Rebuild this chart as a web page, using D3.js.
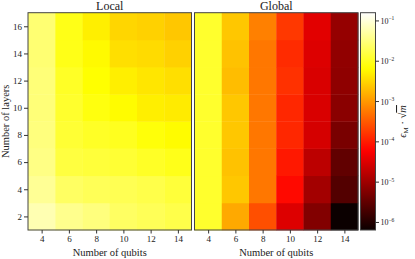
<!DOCTYPE html>
<html><head><meta charset="utf-8">
<script src="https://cdn.jsdelivr.net/npm/d3@7"></script>
<style>body{margin:0;background:#fff}svg{display:block}svg text{font-family:"Liberation Serif","Times New Roman",serif !important;fill:#222}</style>
</head><body><svg id="c" width="415" height="259"></svg>
<script>
const qubits = [4, 6, 8, 10, 12, 14];
const layers = [2, 4, 6, 8, 10, 12, 14, 16];
const xTicks = [4, 6, 8, 10, 12, 14];
const yTicks = [2, 4, 6, 8, 10, 12, 14, 16];
const cbTicks = [-1, -2, -3, -4, -5, -6];
const panelTitles = ["Local", "Global"];
// rows: layers 2..16, columns: qubits 4..14
const localValues = [
  [6.2e-2, 3.9e-2, 3.2e-2, 2.3e-2, 2.0e-2, 1.7e-2],
  [4.3e-2, 2.3e-2, 2.0e-2, 1.9e-2, 1.7e-2, 1.4e-2],
  [3.5e-2, 1.5e-2, 1.4e-2, 1.3e-2, 1.1e-2, 9.3e-3],
  [3.2e-2, 1.3e-2, 1.1e-2, 1.0e-2, 7.6e-3, 6.5e-3],
  [3.0e-2, 1.2e-2, 8.1e-3, 6.5e-3, 5.1e-3, 4.7e-3],
  [3.0e-2, 1.1e-2, 6.8e-3, 5.1e-3, 4.3e-3, 3.8e-3],
  [2.8e-2, 9.1e-3, 6.2e-3, 3.8e-3, 3.5e-3, 2.9e-3],
  [2.8e-2, 9.1e-3, 5.1e-3, 3.2e-3, 2.9e-3, 2.4e-3]
];
const globalValues = [
  [1.2e-2, 1.4e-3, 2.6e-4, 3.2e-5, 5.9e-6, 6.5e-7],
  [1.2e-2, 2.4e-3, 5.5e-4, 7.2e-5, 1.1e-5, 2.5e-6],
  [1.2e-2, 2.2e-3, 5.5e-4, 9.5e-5, 1.75e-5, 3.2e-6],
  [1.2e-2, 2.4e-3, 5.5e-4, 1.25e-4, 2.75e-5, 5.0e-6],
  [1.2e-2, 2.4e-3, 5.5e-4, 1.25e-4, 3.0e-5, 6.9e-6],
  [1.2e-2, 2.0e-3, 5.5e-4, 1.5e-4, 3.0e-5, 7.6e-6],
  [1.2e-2, 2.2e-3, 5.5e-4, 1.35e-4, 3.2e-5, 7.9e-6],
  [1.2e-2, 2.4e-3, 6.5e-4, 1.7e-4, 3.5e-5, 8.5e-6]
];
const vmin = 6.5e-7, vmax = 0.16;

// matplotlib "hot" colormap
function hot(t){
  t = Math.max(0, Math.min(1, t));
  const r = t < 0.365079 ? 0.0416 + (1-0.0416)*t/0.365079 : 1;
  const g = t < 0.365079 ? 0 : (t < 0.746032 ? (t-0.365079)/(0.746032-0.365079) : 1);
  const b = t < 0.746032 ? 0 : (t-0.746032)/(1-0.746032);
  return d3.rgb(r*255, g*255, b*255).toString();
}
const color = d3.scaleSequentialLog(hot).domain([vmin, vmax]);

const svg = d3.select("#c");
const pTop = 12.7, pBottom = 230;
const panels = [
  {x0: 28, x1: 191.5, data: localValues, title: panelTitles[0], yaxis: true},
  {x0: 194.5, x1: 358, data: globalValues, title: panelTitles[1], yaxis: false}
];
const y = d3.scaleLinear().domain([1, 17]).range([pBottom, pTop]);

panels.forEach(p => {
  const x = d3.scaleLinear().domain([3, 15]).range([p.x0, p.x1]);
  const g = svg.append("g");
  const cells = [];
  layers.forEach((l, i) => qubits.forEach((q, j) => cells.push({q, l, v: p.data[i][j]})));
  g.selectAll("rect.cell").data(cells).join("rect")
    .attr("x", d => x(d.q - 1)).attr("y", d => y(d.l + 1))
    .attr("width", d => x(d.q + 1) - x(d.q - 1) + 0.4)
    .attr("height", d => y(d.l - 1) - y(d.l + 1) + 0.4)
    .attr("fill", d => color(d.v));
  g.append("rect").attr("x", p.x0).attr("y", pTop).attr("width", p.x1 - p.x0).attr("height", pBottom - pTop)
    .attr("fill", "none").attr("stroke", "#444").attr("stroke-width", 1);
  const xa = g.append("g").attr("transform", `translate(0,${pBottom})`)
    .call(d3.axisBottom(x).tickValues(xTicks).tickSize(3.5).tickPadding(2));
  xa.attr("font-family", null);
  xa.select(".domain").remove();
  xa.selectAll("line").attr("stroke", "#333");
  xa.selectAll("text").attr("font-size", 9).attr("fill", "#333");
  g.append("text").attr("x", (p.x0 + p.x1)/2).attr("y", 9.5).attr("text-anchor", "middle")
    .attr("font-size", 12).text(p.title);
  g.append("text").attr("x", (p.x0 + p.x1)/2).attr("y", 255.5).attr("text-anchor", "middle")
    .attr("font-size", 10.5).text("Number of qubits");
  if (p.yaxis) {
    const ya = g.append("g").attr("transform", `translate(${p.x0},0)`)
      .call(d3.axisLeft(y).tickValues(yTicks).tickSize(4).tickPadding(2));
    ya.attr("font-family", null);
    ya.select(".domain").remove();
    ya.selectAll("line").attr("stroke", "#333");
    ya.selectAll("text").attr("font-size", 9).attr("fill", "#333");
    g.append("text").attr("transform", `translate(8.5,${(pTop+pBottom)/2}) rotate(-90)`)
      .attr("text-anchor", "middle").attr("font-size", 10.5).text("Number of layers");
  }
});

// colorbar
const cbx0 = 360.5, cbx1 = 375.5;
const cy = d3.scaleLog().domain([vmin, vmax]).range([pBottom, pTop]);
const defs = svg.append("defs");
const grad = defs.append("linearGradient").attr("id", "cbg").attr("x1", 0).attr("y1", 1).attr("x2", 0).attr("y2", 0);
d3.range(0, 1.0001, 0.02).forEach(t => grad.append("stop").attr("offset", t).attr("stop-color", hot(t)));
svg.append("rect").attr("x", cbx0).attr("y", pTop).attr("width", cbx1 - cbx0).attr("height", pBottom - pTop)
  .attr("fill", "url(#cbg)").attr("stroke", "#444").attr("stroke-width", 1);
const cg = svg.append("g");
cbTicks.forEach(e => {
  const yy = cy(Math.pow(10, e));
  cg.append("line").attr("x1", cbx1).attr("x2", cbx1 + 3.5).attr("y1", yy).attr("y2", yy).attr("stroke", "#333");
  const t = cg.append("text").attr("x", cbx1 + 5).attr("y", yy + 3).attr("font-size", 8).attr("fill", "#333");
  t.append("tspan").text("10");
  t.append("tspan").attr("dy", -3.5).attr("font-size", 5.5).text("\u2212" + Math.abs(e));
});
const lab = svg.append("text").attr("transform", `translate(406,${(pTop+pBottom)/2}) rotate(-90)`)
  .attr("text-anchor", "middle").attr("font-size", 10.5);
lab.append("tspan").attr("font-style", "italic").text("\u03f5");
lab.append("tspan").attr("dy", 2).attr("font-size", 7).text("M");
lab.append("tspan").attr("dy", -2).text(" \u00b7 \u221a");
lab.append("tspan").attr("font-style", "italic").attr("text-decoration", "overline").text("m");
</script></body></html>
